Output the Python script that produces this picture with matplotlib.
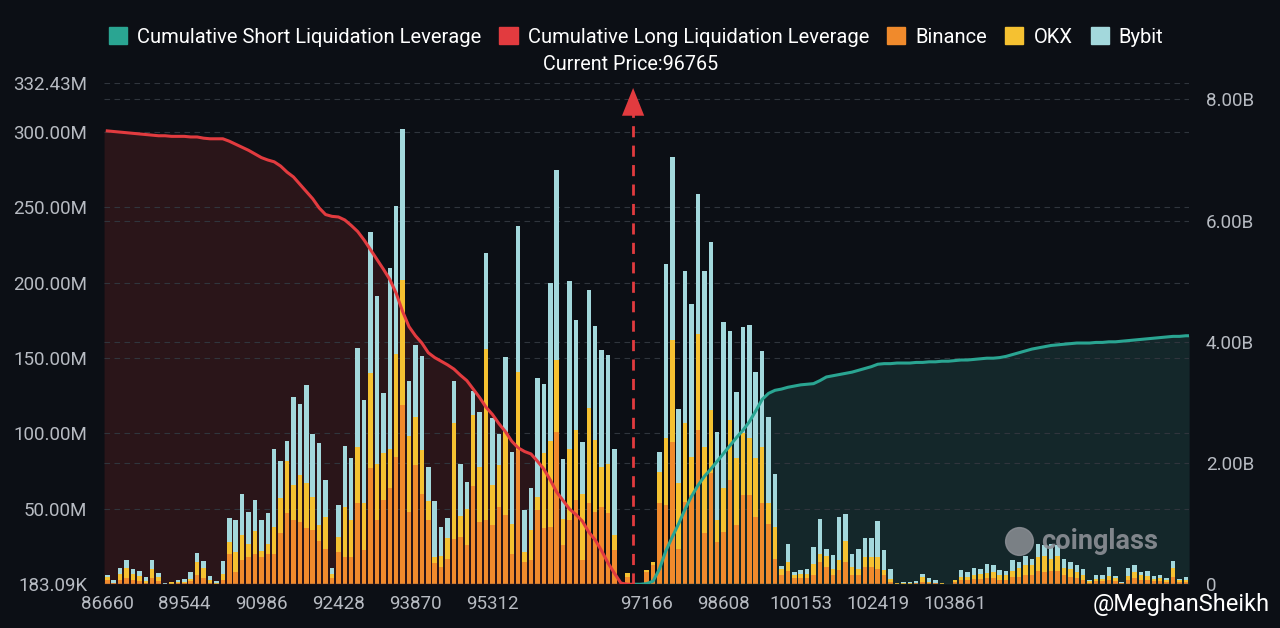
import numpy as np
import matplotlib.pyplot as plt
from matplotlib.patches import Patch

# price bins (category axis) and the labels that are shown
tick_idx = [0, 12, 24, 36, 48, 60, 84, 96, 108, 120, 132]
tick_labels = ["86660", "89544", "90986", "92428", "93870", "95312",
               "97166", "98608", "100153", "102419", "103861"]
current_price = 96765
current_idx = 81.9

# liquidation leverage per bin, in millions
binance = [3, 1, 3, 4, 3, 2, 1, 4, 2, 0.1, 0.2, 0.5, 1, 2, 6, 4, 1, 0.3, 3,
           20, 8, 16, 18, 20, 18, 20, 20, 33.7, 47, 42.5, 41.4, 37, 36, 29, 23.7, 4,
           21.5, 18, 18, 53.6, 22.6, 77, 42.5, 56, 63.6, 84.6, 119, 48, 79, 60,
           42.5, 14, 11.5, 17, 30, 31.5, 26, 65, 41, 42.5, 39, 51, 46, 20, 89,
           15, 16, 49, 37, 37.7, 101, 26, 42.5, 56, 16, 53.6, 48, 51.4, 47, 22.6,
           0, 5, 0, 0.2, 8, 13, 53.6, 52.5, 94.6, 23.7, 54.7, 59, 102, 33.7, 73.6,
           28, 34.8, 69, 39, 59, 59, 44.8, 53.6, 40, 17, 6, 9, 4, 4, 4,
           6, 15, 11.5, 6, 9.3, 15, 6, 6, 11.5, 11.5, 10.4, 6, 1.5,
           0.3, 0.3, 0.4, 0.5, 1.5, 0.8, 0.6, 0.3, 0.2, 1.5, 3, 3, 3.5, 3.5, 4, 4, 3,
           3, 5, 5, 6, 6, 9, 8, 9, 9, 6, 5, 4, 3, 1, 2, 2, 3, 2, 0.5,
           3, 4, 3, 3, 2, 2, 1.5, 5, 1.5, 1.5]
okx = [2, 0, 4, 7, 4, 3.6, 1, 6, 2.5, 0.1, 1, 1, 0.8, 1.8, 9, 6.5, 1.5, 0.2, 3.5,
       8, 13.5, 16.6, 9, 15, 4, 7, 18, 23.3, 35, 23.5, 31.1, 30, 22, 10, 21.1, 3,
       10, 33, 24.5, 37.4, 31, 63, 37.5, 31, 26.4, 68.4, 83, 50, 32, 29,
       12.5, 4, 7.5, 14, 77, 13.5, 24, 47, 37, 113.5, 27, 28, 55, 20, 52,
       6.5, 20, 9, 50, 57, 48, 17.6, 47.5, 46, 44, 63.4, 47.7, 26.6, 33, 10,
       0, 2.5, 0, 0.1, 1.7, 2, 21.1, 44.3, 67.4, 43.3, 52.1, 25.6, 64, 57.3, 42.1,
       14.5, 28.8, 40, 44.5, 41, 38, 38.7, 37.4, 13.6, 21, 4, 6, 2, 3, 3,
       7.7, 5, 7.5, 4.4, 6.7, 14, 5.5, 4.4, 6.5, 6.5, 7.6, 3.3, 2.3,
       0.2, 0.2, 0.2, 0.3, 3.5, 0.6, 0.4, 0.2, 0.1, 1, 2, 1.5, 2.5, 3, 3.5, 4, 3,
       3, 4, 6, 7, 7, 9, 11, 8, 10, 5, 5, 4, 3, 1, 1.5, 1.5, 2.5, 2, 0.5,
       2.5, 4, 3, 2.5, 1.5, 2, 1.5, 6, 1.5, 1]
bybit = [1, 2, 4, 5, 3, 3, 3, 6, 3, 0.3, 0.3, 1.5, 2, 4, 6, 5, 3, 1.5, 9,
         16, 21, 27.4, 21, 21, 20.5, 20, 51.5, 25, 13, 58.5, 47, 65, 41.5, 54.5, 24.2, 4,
         21, 41, 41.5, 66, 68.4, 93.5, 111.5, 40, 119.5, 98, 100, 37, 48, 62.5,
         23, 37, 19, 13, 28, 35, 18, 16.5, 36, 64, 44, 20.5, 50, 48, 96.5,
         28, 27.6, 79, 46, 105, 126, 39.4, 111, 73, 34.6, 78, 75.3, 77.5, 72, 57.4,
         0, 0, 0, 0, 0, 0, 13.3, 115.7, 121.6, 49, 100.8, 101.4, 93, 116.6, 111.3,
         58.3, 110.1, 59, 43.9, 70.6, 74.7, 57, 64, 57.2, 35, 2, 12, 1.8, 2.3, 3.4,
         10.7, 23.2, 4.7, 8.9, 28.8, 17.5, 8.5, 13.3, 12.4, 13, 24, 13.7, 6.2,
         0.6, 1.0, 0.9, 1.2, 1.6, 3.0, 1.6, 0.6, 0.1, 0.6, 4.3, 3.7, 4.8, 3.7, 5.8, 4.8, 3.7,
         2.6, 7, 3.8, 5.6, 4, 9, 7, 10, 7, 6, 4.8, 5, 4.4, 0.7, 2.5, 2.5, 6, 1.3, 0.5,
         5.3, 5, 2.2, 3.4, 1.8, 2, 1.2, 4.5, 0.8, 2.4]

# cumulative leverage, in billions
long_cum = [7.48, 7.47, 7.46, 7.45, 7.44, 7.43, 7.42, 7.41, 7.40, 7.40,
            7.39, 7.39, 7.39, 7.38, 7.38, 7.36, 7.35, 7.35, 7.35, 7.31,
            7.26, 7.21, 7.16, 7.10, 7.04, 7.00, 6.97, 6.90, 6.80, 6.72,
            6.60, 6.48, 6.36, 6.21, 6.10, 6.07, 6.06, 6.01, 5.92, 5.82,
            5.68, 5.52, 5.36, 5.20, 5.03, 4.80, 4.50, 4.25, 4.10, 3.98,
            3.82, 3.74, 3.68, 3.62, 3.55, 3.45, 3.36, 3.22, 3.08, 2.92,
            2.80, 2.65, 2.52, 2.36, 2.25, 2.19, 2.15, 2.03, 1.90, 1.72,
            1.52, 1.38, 1.24, 1.15, 1.04, 0.86, 0.73, 0.55, 0.35, 0.18,
            0.02, 0.0, 0.0]
short_cum = [0.0, 0.0, 0.01, 0.05, 0.25, 0.55, 0.78, 1.00, 1.24, 1.45,
             1.63, 1.78, 1.90, 2.03, 2.16, 2.29, 2.42, 2.54, 2.68, 2.86,
             3.05, 3.15, 3.20, 3.22, 3.25, 3.27, 3.29, 3.30, 3.31, 3.36,
             3.42, 3.44, 3.46, 3.48, 3.50, 3.53, 3.56, 3.59, 3.63, 3.64,
             3.64, 3.65, 3.65, 3.65, 3.66, 3.66, 3.67, 3.67, 3.68, 3.68,
             3.69, 3.70, 3.70, 3.71, 3.72, 3.73, 3.73, 3.74, 3.76, 3.79,
             3.82, 3.85, 3.88, 3.90, 3.92, 3.94, 3.95, 3.96, 3.97, 3.98,
             3.98, 3.98, 3.99, 3.99, 4.00, 4.00, 4.01, 4.02, 4.03, 4.04,
             4.05, 4.06, 4.07, 4.08, 4.09, 4.09, 4.10]

bg = "#0c0f15"
c_short, c_long = "#2aa592", "#e23b3f"
c_binance, c_okx, c_bybit = "#f08a2c", "#f5c131", "#a3d8dc"
txt = "#b7bbc2"
font = "Roboto"

fig = plt.figure(figsize=(12.8, 6.28), dpi=100, facecolor=bg)
ax = fig.add_axes([0.0813, 0.0701, 0.8477, 0.7977])
ax.set_facecolor(bg)
ax2 = ax.twinx()
ax.set_zorder(2)
ax2.set_zorder(1)
ax.patch.set_visible(False)
ax2.patch.set_facecolor(bg)

n = len(binance)
x = np.arange(n)
b = np.array(binance)
o = np.array(okx)
y = np.array(bybit)

# cumulative areas on the right axis
xl = np.arange(len(long_cum))
xs = np.arange(len(long_cum) - 1, len(long_cum) - 1 + len(short_cum))
xs_full = np.r_[xs, n - 0.5]
ys_full = np.r_[short_cum, short_cum[-1]]
ax2.fill_between(np.r_[-0.5, xl], np.r_[long_cum[0], long_cum], color="#2a1519", lw=0)
ax2.fill_between(xs_full, ys_full, color="#14272a", lw=0)

# stacked bars
w = 0.7
ax.bar(x, b, w, color=c_binance, lw=0)
ax.bar(x, o, w, bottom=b, color=c_okx, lw=0)
ax.bar(x, y, w, bottom=b + o, color=c_bybit, lw=0)

ax.set_xlim(-0.5, n - 0.5)
ax.set_ylim(0.18309, 332.43)
ax2.set_ylim(0, 8.27)

# cumulative lines drawn on the bar axes (scaled to the right axis) so they sit on top
k = 332.43 / 8.27
ax.plot(xl, np.array(long_cum) * k, color=c_long, lw=2.2, zorder=5)
ax.plot(xs_full, ys_full * k, color=c_short, lw=2.2, zorder=5)

lt = [0.18309, 50, 100, 150, 200, 250, 300, 332.43]
ax.set_yticks(lt)
ax.set_yticklabels(["183.09K", "50.00M", "100.00M", "150.00M", "200.00M",
                    "250.00M", "300.00M", "332.43M"])
ax2.set_yticks([0, 2, 4, 6, 8])
ax2.set_yticklabels(["0", "2.00B", "4.00B", "6.00B", "8.00B"])
ax.set_xticks(tick_idx)
ax.set_xticklabels(tick_labels)

for a in (ax, ax2):
    a.tick_params(length=0, colors=txt, labelsize=13.5, pad=12)
    for lab in a.get_xticklabels() + a.get_yticklabels():
        lab.set_fontfamily(font)
    for s in a.spines.values():
        s.set_visible(False)
ax.tick_params(axis="x", pad=8)

grid = dict(color="#30353d", lw=0.8, ls=(0, (5, 4)))
for v in lt[1:]:
    ax2.axhline(v / k, **grid)
for v in [2, 4, 6, 8]:
    ax2.axhline(v, **grid)
ax.axhline(0.18309, color="#3a3f47", lw=1)

# current price marker
ax.plot([current_idx, current_idx], [0, 316], color=c_long, lw=2, ls=(0, (4, 3)), zorder=6)
ax.annotate("", xy=(current_idx, 331), xytext=(current_idx, 313),
            arrowprops=dict(arrowstyle="-|>,head_width=0.4,head_length=1",
                            mutation_scale=20, color=c_long, lw=0), zorder=6)
fig.text(631 / 1280, 1 - 65 / 628, "Current Price:%d" % current_price, color="white",
         fontsize=14.2, ha="center", va="center", family=font)

# watermarks
ax.plot([0.843], [0.085], "o", ms=20, color="#8d9096", alpha=0.85,
        transform=ax.transAxes, zorder=7)
ax.text(0.971, 0.085, "coinglass", transform=ax.transAxes, color="#8d9096",
        fontsize=19.5, fontweight="bold", ha="right", va="center", family=font,
        alpha=0.9, zorder=7)
fig.text(0.992, 1 - 604 / 628, "@MeghanSheikh", color="white", fontsize=17,
         ha="right", va="center", family=font)

handles = [Patch(color=c) for c in (c_short, c_long, c_binance, c_okx, c_bybit)]
names = ["Cumulative Short Liquidation Leverage", "Cumulative Long Liquidation Leverage",
         "Binance", "OKX", "Bybit"]
fig.legend(handles, names, loc="center", bbox_to_anchor=(0.497, 1 - 37 / 628), ncol=5,
           frameon=False, handlelength=0.9, handleheight=0.9, handletextpad=0.5,
           columnspacing=0.9, labelcolor="white", prop=dict(family=font, size=14.5))

fig.savefig("out.png", dpi=100, facecolor=bg)
